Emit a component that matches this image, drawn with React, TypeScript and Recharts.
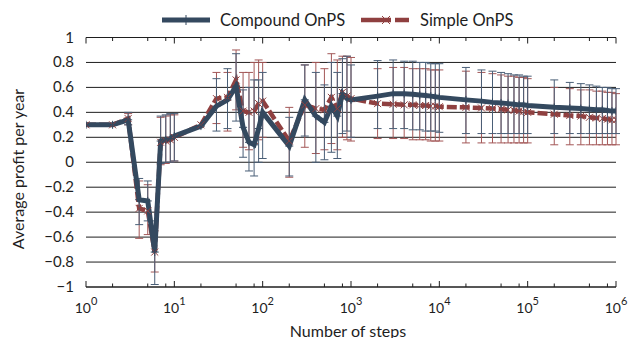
import React from "react";
import {
  ComposedChart,
  Line,
  XAxis,
  YAxis,
  CartesianGrid,
  ErrorBar,
  Legend,
  Label,
} from "recharts";

// number of steps (log axis)
const steps = [
  1, 2, 3, 4, 5, 6, 7, 8, 9, 10,
  20, 30, 40, 50, 60, 70, 80, 90, 100,
  200, 300, 400, 500, 600, 700, 800, 900, 1000,
  2000, 3000, 4000, 5000, 6000, 7000, 8000, 9000, 10000,
  20000, 30000, 40000, 50000, 60000, 70000, 80000, 90000, 100000,
  200000, 300000, 400000, 500000, 600000, 700000, 800000, 900000, 1000000,
];

const compound = [
  0.3, 0.3, 0.34, -0.3, -0.31, -0.72, 0.17, 0.18, 0.19, 0.21,
  0.29, 0.45, 0.5, 0.61, 0.28, 0.16, 0.14, 0.27, 0.4,
  0.13, 0.5, 0.37, 0.32, 0.45, 0.37, 0.55, 0.51, 0.5,
  0.53, 0.55, 0.55, 0.545, 0.54, 0.535, 0.53, 0.525, 0.52,
  0.5, 0.49, 0.48, 0.475, 0.47, 0.465, 0.46, 0.46, 0.455,
  0.44, 0.435, 0.43, 0.425, 0.42, 0.42, 0.415, 0.41, 0.41,
];

const compoundHigh = [
  null, null, 0.4, -0.13, -0.15, -0.47, 0.37, 0.38, 0.39, 0.39,
  null, 0.67, 0.75, 0.87, 0.58, 0.6, 0.66, 0.66, 0.72,
  0.36, 0.78, 0.72, 0.62, 0.8, 0.72, 0.83, 0.85, 0.78,
  0.815, 0.82, 0.81, 0.81, 0.8, 0.8, 0.79, 0.79, 0.79,
  0.76, 0.74, 0.73, 0.72, 0.71, 0.7, 0.7, 0.69, 0.69,
  0.66, 0.64, 0.63, 0.62, 0.61, 0.6, 0.6, 0.59, 0.59,
];

const compoundLow = [
  null, null, 0.3, -0.5, -0.47, -0.98, -0.01, 0.0, 0.0, 0.01,
  null, 0.25, 0.27, 0.33, 0.04, -0.07, -0.11, 0.0, 0.03,
  -0.11, 0.21, 0.0, 0.02, 0.08, 0.03, 0.23, 0.25, 0.2,
  0.27, 0.27, 0.27, 0.26, 0.26, 0.25, 0.25, 0.25, 0.24,
  0.23, 0.23, 0.23, 0.23, 0.23, 0.23, 0.23, 0.23, 0.23,
  0.23, 0.23, 0.23, 0.23, 0.23, 0.23, 0.23, 0.23, 0.23,
];

const simple = [
  0.3, 0.3, 0.35, -0.37, -0.39, -0.72, 0.16, 0.17, 0.18, 0.2,
  0.3, 0.51, 0.52, 0.66, 0.41, 0.4, 0.41, 0.47, 0.49,
  0.17, 0.46, 0.43, 0.42, 0.52, 0.43, 0.56, 0.53, 0.51,
  0.47, 0.465, 0.46, 0.46, 0.455, 0.455, 0.45, 0.45, 0.445,
  0.44, 0.435, 0.43, 0.425, 0.42, 0.415, 0.41, 0.405, 0.4,
  0.385, 0.375, 0.37, 0.36, 0.355, 0.35, 0.345, 0.34, 0.34,
];

const simpleHigh = [
  null, null, 0.39, -0.15, -0.18, -0.55, 0.36, 0.37, 0.38, 0.38,
  null, 0.72, 0.72, 0.9, 0.72, 0.72, 0.8, 0.82, 0.8,
  0.44, 0.78, 0.8, 0.75, 0.87, 0.82, 0.85, 0.85, 0.84,
  0.75, 0.76, 0.76, 0.75, 0.75, 0.75, 0.74, 0.74, 0.74,
  0.73, 0.72, 0.71, 0.7, 0.69, 0.69, 0.68, 0.68, 0.67,
  0.6, 0.59, 0.58, 0.58, 0.57, 0.57, 0.56, 0.56, 0.55,
];

const simpleLow = [
  null, null, 0.3, -0.61, -0.58, -0.88, -0.02, -0.01, 0.0, 0.01,
  null, 0.31, 0.25, 0.42, 0.12, 0.1, 0.15, 0.18, 0.2,
  -0.12, 0.12, 0.07, 0.1, 0.15, 0.1, 0.2, 0.18, 0.17,
  0.19, 0.19, 0.19, 0.18, 0.18, 0.18, 0.17, 0.17, 0.17,
  0.155, 0.155, 0.155, 0.155, 0.155, 0.155, 0.155, 0.155, 0.155,
  0.14, 0.14, 0.14, 0.14, 0.14, 0.14, 0.14, 0.14, 0.14,
];

const xTicks = [
  1, 2, 5, 8, 10, 20, 50, 80, 100, 200, 500, 800, 1000, 2000, 5000, 8000,
  10000, 20000, 50000, 80000, 100000, 200000, 500000, 800000, 1000000,
];
const yTicks = [-1, -0.8, -0.6, -0.4, -0.2, 0, 0.2, 0.4, 0.6, 0.8, 1];

const BLUE = "#34495f";
const RED = "#8f4040";
const INK = "#1e1e1e";

const errOf = (v: number, hi: number | null, lo: number | null) =>
  hi == null || lo == null ? null : [v - lo, hi - v];

const data = steps.map((s, i) => ({
  step: s,
  compound: compound[i],
  simple: simple[i],
  compoundErr: errOf(compound[i], compoundHigh[i], compoundLow[i]),
  simpleErr: errOf(simple[i], simpleHigh[i], simpleLow[i]),
}));

const isMajor = (v: number) => Math.abs(Math.log10(v) - Math.round(Math.log10(v))) < 1e-9;

const XTick = (props: any) => {
  const { x, y, payload, top } = props;
  const v = payload.value;
  const major = isMajor(v);
  const len = major ? 6 : 3.5;
  const dir = top ? 1 : -1;
  return (
    <g>
      <line x1={x} y1={y} x2={x} y2={y + dir * len} stroke={INK} strokeWidth={1} />
      {!top && major && (
        <text x={x} y={y + 26} textAnchor="middle" fontSize={14} fill={INK}>
          10
          <tspan dy={-8} fontSize={11}>
            {Math.round(Math.log10(v))}
          </tspan>
        </text>
      )}
    </g>
  );
};

const YTick = (props: any) => {
  const { x, y, payload } = props;
  const v = payload.value;
  const label = (Number.isInteger(v) ? String(v) : v.toFixed(1)).replace("-", "\u2212");
  return (
    <text x={x - 12} y={y + 5} textAnchor="end" fontSize={15} fill={INK}>
      {label}
    </text>
  );
};

const PlusDot = (props: any) => {
  const { cx, cy, index } = props;
  if (cx == null || cy == null) return <g key={index} />;
  return (
    <g key={index}>
      <line x1={cx - 4} y1={cy} x2={cx + 4} y2={cy} stroke={BLUE} strokeWidth={1} />
      <line x1={cx} y1={cy - 4} x2={cx} y2={cy + 4} stroke={BLUE} strokeWidth={1} />
    </g>
  );
};

const CrossDot = (props: any) => {
  const { cx, cy, index } = props;
  if (cx == null || cy == null) return <g key={index} />;
  return (
    <g key={index}>
      <line x1={cx - 3.5} y1={cy - 3.5} x2={cx + 3.5} y2={cy + 3.5} stroke={RED} strokeWidth={1} />
      <line x1={cx - 3.5} y1={cy + 3.5} x2={cx + 3.5} y2={cy - 3.5} stroke={RED} strokeWidth={1} />
    </g>
  );
};

const LegendBox = () => (
  <svg width={630} height={36} style={{ display: "block" }}>
    <line x1={162} y1={20} x2={210} y2={20} stroke={BLUE} strokeWidth={5} />
    <line x1={186} y1={15} x2={186} y2={25} stroke={BLUE} strokeWidth={1} />
    <text x={220} y={26} fontSize={16.5} fill={INK}>
      Compound OnPS
    </text>
    <line x1={361} y1={20} x2={409} y2={20} stroke={RED} strokeWidth={4.5} strokeDasharray="30 4" />
    <line x1={382} y1={16} x2={390} y2={24} stroke={RED} strokeWidth={1} />
    <line x1={382} y1={24} x2={390} y2={16} stroke={RED} strokeWidth={1} />
    <text x={420} y={26} fontSize={16.5} fill={INK}>
      Simple OnPS
    </text>
  </svg>
);

export default function App() {
  return (
    <div
      style={{
        position: "absolute",
        left: 0,
        top: 0,
        width: 630,
        height: 338,
        background: "#fff",
        fontFamily: "Lato, 'Open Sans', sans-serif",
        overflow: "hidden",
      }}
    >
      <ComposedChart
        width={630}
        height={338}
        data={data}
        margin={{ top: 0, right: 14, bottom: 0, left: 0 }}
      >
        <CartesianGrid vertical={false} stroke={INK} strokeWidth={1} />

        <XAxis
          dataKey="step"
          type="number"
          scale="log"
          domain={[1, 1000000]}
          allowDataOverflow
          ticks={xTicks}
          height={51}
          axisLine={{ stroke: INK }}
          tickLine={false}
          tickSize={0}
          tickMargin={0}
          interval={0}
          tick={(p: any) => <XTick {...p} />}
        >
          <Label
            content={() => (
              <text x={348} y={336.5} textAnchor="middle" fontSize={16} fill={INK}>
                Number of steps
              </text>
            )}
          />
        </XAxis>

        <XAxis
          xAxisId="top"
          orientation="top"
          dataKey="step"
          type="number"
          scale="log"
          domain={[1, 1000000]}
          allowDataOverflow
          ticks={xTicks}
          height={37.5}
          axisLine={{ stroke: INK }}
          tickLine={false}
          tickSize={0}
          tickMargin={0}
          interval={0}
          tick={(p: any) => <XTick {...p} top />}
        />

        <YAxis
          type="number"
          domain={[-1, 1]}
          allowDataOverflow
          ticks={yTicks}
          width={86}
          axisLine={false}
          tickLine={false}
          tickSize={0}
          tickMargin={0}
          interval={0}
          tick={(p: any) => <YTick {...p} />}
        >
          <Label
            content={() => (
              <text
                x={24}
                y={169}
                textAnchor="middle"
                fontSize={16}
                fill={INK}
                transform="rotate(-90, 24, 169)"
              >
                Average profit per year
              </text>
            )}
          />
        </YAxis>

        <Legend
          verticalAlign="middle"
          align="center"
          wrapperStyle={{ top: 0, left: 0, width: 630, height: 36 }}
          content={() => <LegendBox />}
        />

        <Line
          dataKey="simple"
          name="Simple OnPS"
          type="linear"
          stroke={RED}
          strokeWidth={4.5}
          strokeDasharray="10 3"
          dot={(p: any) => <CrossDot {...p} />}
          activeDot={false}
          isAnimationActive={false}
        >
          <ErrorBar
            dataKey="simpleErr"
            direction="y"
            width={4}
            stroke="#a35757"
            strokeWidth={1}
            isAnimationActive={false}
          />
        </Line>

        <Line
          dataKey="compound"
          name="Compound OnPS"
          type="linear"
          stroke={BLUE}
          strokeWidth={5}
          dot={(p: any) => <PlusDot {...p} />}
          activeDot={false}
          isAnimationActive={false}
        >
          <ErrorBar
            dataKey="compoundErr"
            direction="y"
            width={4}
            stroke="#4a5f77"
            strokeWidth={1}
            isAnimationActive={false}
          />
        </Line>
      </ComposedChart>
    </div>
  );
}
